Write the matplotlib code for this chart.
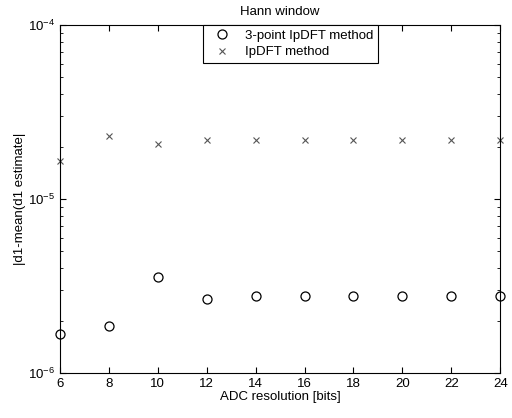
import numpy as np
import matplotlib
matplotlib.use('Agg')
import matplotlib.pyplot as plt
from matplotlib.ticker import LogLocator, NullFormatter

plt.rcParams['font.family'] = ['Liberation Sans', 'DejaVu Sans']
plt.rcParams['mathtext.fontset'] = 'custom'
plt.rcParams['mathtext.rm'] = 'Liberation Sans'
plt.rcParams['mathtext.default'] = 'regular'

# ── Data ─────────────────────────────────────────────────────────
bits = [6, 8, 10, 12, 14, 16, 18, 20, 22, 24]
err_3point = [1.67e-6, 1.87e-6, 3.56e-6, 2.65e-6, 2.75e-6, 2.75e-6, 2.75e-6, 2.75e-6, 2.75e-6, 2.75e-6]
err_ipdft = [1.65e-5, 2.30e-5, 2.07e-5, 2.18e-5, 2.18e-5, 2.18e-5, 2.18e-5, 2.18e-5, 2.18e-5, 2.18e-5]

FS = 9.5

fig = plt.figure(figsize=(5.12, 4.18), dpi=100)
ax = fig.add_axes([0.117, 0.108, 0.860, 0.832])

ax.plot(bits, err_3point, linestyle='none', marker='o', markersize=6.5,
        markerfacecolor='none', markeredgecolor='black', markeredgewidth=0.9,
        label='3-point IpDFT method', clip_on=False)
ax.plot(bits, err_ipdft, linestyle='none', marker='x', markersize=4,
        color='#555555', markeredgewidth=0.8, label='IpDFT method', clip_on=False)

ax.set_yscale('log')
ax.set_xlim(6, 24)
ax.set_ylim(1e-6, 1e-4)
ax.set_xticks(bits)
ax.yaxis.set_minor_locator(LogLocator(base=10, subs=np.arange(2, 10)))
ax.yaxis.set_minor_formatter(NullFormatter())

ax.tick_params(which='both', direction='in', top=True, right=True, labelsize=FS)
ax.tick_params(which='major', length=4)
ax.tick_params(which='minor', length=2.5)
for s in ax.spines.values():
    s.set_linewidth(0.8)

ax.set_title('Hann window', fontsize=FS, pad=7)
ax.set_xlabel('ADC resolution [bits]', fontsize=FS, labelpad=1)
ax.set_ylabel('|d1-mean(d1 estimate|', fontsize=FS, labelpad=1)

leg = ax.legend(loc='upper center', bbox_to_anchor=(0.524, 1.0), fontsize=FS,
                fancybox=False, framealpha=1, edgecolor='black',
                borderpad=0.35, labelspacing=0.3, handletextpad=0.6,
                handlelength=2.2, borderaxespad=0)
leg.get_frame().set_linewidth(0.8)

plt.savefig('out.png', dpi=100)
plt.close()
